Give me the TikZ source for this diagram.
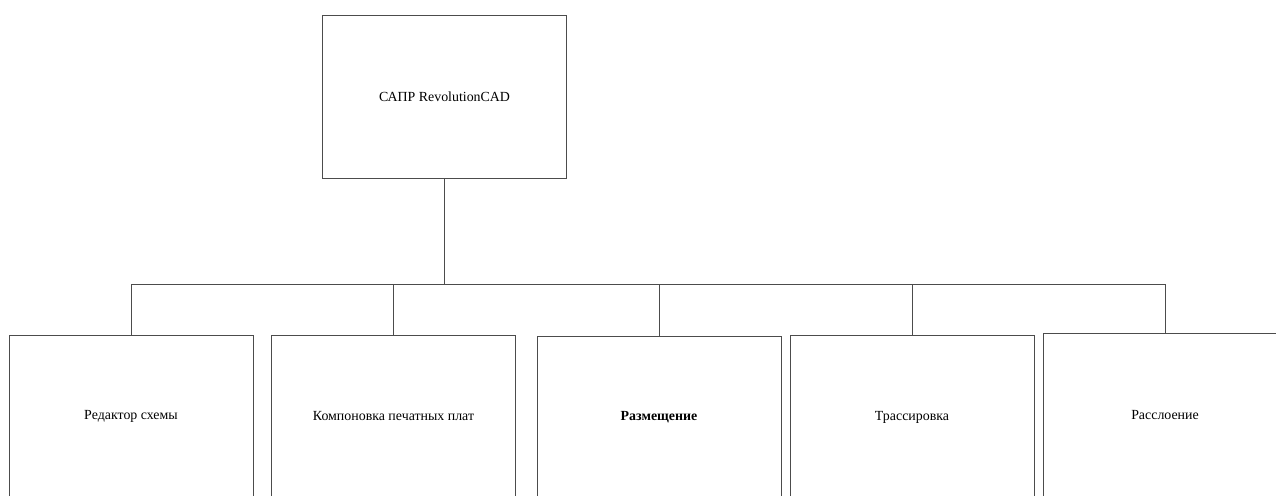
\documentclass[tikz,border=0pt]{standalone}
\usepackage{fontspec}
\setmainfont{Liberation Serif}
\usepackage{xcolor}
\usepackage{tikz}

\begin{document}
\begin{tikzpicture}[x=1pt, y=-1pt,
        block/.style={draw=black!70, line width=0.8pt, rectangle,
            minimum width=244pt, minimum height=163pt, inner sep=0pt,
            font=\fontsize{13.9}{16}\selectfont},
        link/.style={draw=black!70, line width=0.8pt}]
            \useasboundingbox (0, 0) rectangle (1276, 495);
            \clip (0, 0) rectangle (1276, 495);

            \node[block] (sapr) at (444.5, 96.5) {САПР RevolutionCAD};
            \coordinate (bus) at (444.5, 284);

            \node[block] (editor) at (131, 416.5) {Редактор схемы};
            \node[block] (layout) at (393.5, 416.5) {Компоновка печатных плат};
            \node[block] (placement) at (659, 417.5) {\textbf{Размещение}};
            \node[block] (routing) at (912, 417.2) {Трассировка};
            \node[block] (layering) at (1165, 415.2) {Расслоение};

            \draw[link] (sapr.south) -- (bus);
            \draw[link] (bus) -| (editor.north);
            \draw[link] (bus) -| (layout.north);
            \draw[link] (bus) -| (placement.north);
            \draw[link] (bus) -| (routing.north);
            \draw[link] (bus) -| (layering.north);
        \end{tikzpicture}
\end{document}
